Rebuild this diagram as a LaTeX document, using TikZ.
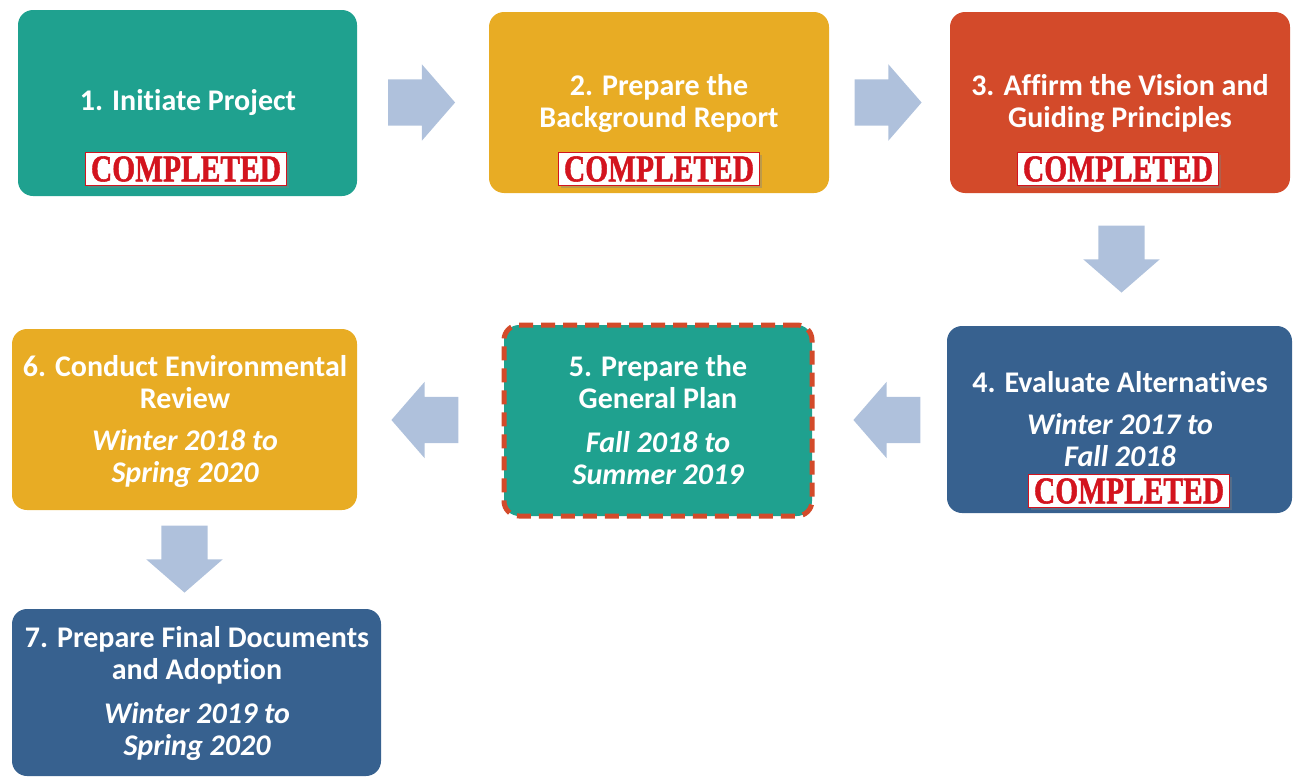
\documentclass[tikz,border=0pt]{standalone}
\usepackage{fontspec}
\setmainfont{Carlito}[Ligatures=NoCommon]
\newfontfamily\stampfont{Liberation Serif}[BoldFeatures={FakeBold=1.5}]
\usetikzlibrary{shapes.arrows,shadows}

\definecolor{tealbox}{RGB}{31,161,143}
\definecolor{yellowbox}{RGB}{232,172,36}
\definecolor{orangebox}{RGB}{211,74,42}
\definecolor{bluebox}{RGB}{55,97,143}
\definecolor{arrowblue}{RGB}{175,193,220}
\definecolor{stampred}{RGB}{211,20,30}

\newcommand{\stamptext}{\resizebox{190pt}{25pt}{\stampfont\bfseries COMPLETED}}

\begin{document}
\begin{tikzpicture}[
		x=1pt,y=-1pt,
		stepbox/.style={rectangle,rounded corners=15pt,inner sep=0pt},
		title/.style={text=white,font=\fontsize{30}{32}\selectfont\bfseries,align=center,inner sep=0pt},
		dates/.style={text=white,font=\fontsize{30}{32}\selectfont\bfseries\itshape,align=center,inner sep=0pt},
		done/.style={fill=white,draw=stampred,line width=1.5pt,text=stampred,inner sep=2pt,
			minimum width=201pt,minimum height=33pt,drop shadow={shadow xshift=2pt,shadow yshift=-2pt,opacity=0.4}},
		flow/.style={single arrow,fill=arrowblue,inner xsep=0pt,inner ysep=23pt,
			single arrow head extend=15pt,single arrow tip angle=98,minimum height=67pt}
		]
		\useasboundingbox (0,0) rectangle (1298,779);
		
		% boxes
		\node[stepbox,fill=tealbox,minimum width=339pt,minimum height=186pt] (b1) at (187.5,103) {};
		\node[stepbox,fill=yellowbox,minimum width=340pt,minimum height=181pt] (b2) at (659,102.5) {};
		\node[stepbox,fill=orangebox,minimum width=340pt,minimum height=181pt] (b3) at (1120,102.5) {};
		\node[stepbox,fill=bluebox,minimum width=345pt,minimum height=187pt] (b4) at (1119.5,419.5) {};
		\node[stepbox,fill=tealbox,draw=orangebox,line width=5pt,dash pattern=on 14pt off 8pt,
			minimum width=308pt,minimum height=191pt] (b5) at (658,420.5) {};
		\node[stepbox,fill=yellowbox,minimum width=345pt,minimum height=181pt] (b6) at (184.5,419.5) {};
		\node[stepbox,fill=bluebox,minimum width=369pt,minimum height=167pt] (b7) at (196.5,692.5) {};
		
		% arrows
		\node[flow] (a12) at (411.5,102.5) {};
		\node[flow] (a23) at (878,102.5) {};
		\node[flow,rotate=-90] (a34) at (1121.5,249) {};
		\node[flow,shape border rotate=180] (a45) at (897,420) {};
		\node[flow,shape border rotate=180] (a56) at (435,420) {};
		\node[flow,rotate=-90] (a67) at (184.5,549) {};
		
		% texts
		\node[title] (t1) at (188,103) {1. Initiate Project};
		\node[title] (t2) at (659,104) {2. Prepare the\\Background Report};
		\node[title] (t3) at (1120,104) {3. Affirm the Vision and\\Guiding Principles};
		\node[title] (t4) at (1120,382) {4. Evaluate Alternatives};
		\node[dates] (d4) at (1120,440.5) {Winter 2017 to\\Fall 2018};
		\node[title] (t5) at (658,382) {5. Prepare the\\General Plan};
		\node[dates] (d5) at (658,458.5) {Fall 2018 to\\Summer 2019};
		\node[title] (t6) at (185,382) {6. Conduct Environmental\\Review};
		\node[dates] (d6) at (185,458.5) {Winter 2018 to\\Spring 2020};
		\node[title] (t7) at (197,655) {7. Prepare Final Documents\\and Adoption};
		\node[dates] (d7) at (197,731.5) {Winter 2019 to\\Spring 2020};
		
		% stamps
		\node[done] (s1) at (186,169) {\stamptext};
		\node[done] (s2) at (659,169) {\stamptext};
		\node[done] (s3) at (1118,169) {\stamptext};
		\node[done] (s4) at (1129,491) {\stamptext};
	\end{tikzpicture}
\end{document}
